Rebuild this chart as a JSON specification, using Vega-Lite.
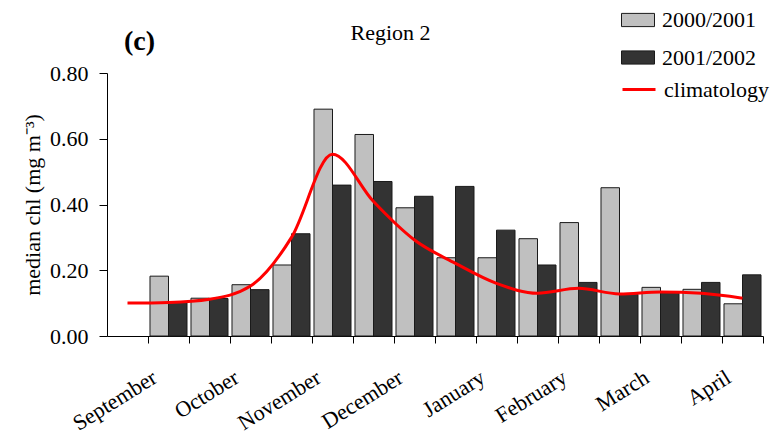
{
  "$schema": "https://vega.github.io/schema/vega-lite/v6.json",
  "width": 656,
  "height": 263,
  "autosize": {"type": "none"},
  "padding": {"left": 107, "top": 73, "right": 10, "bottom": 101},
  "background": "#ffffff",
  "config": {
    "font": "Liberation Serif",
    "view": {"stroke": null},
    "axis": {
      "grid": false,
      "domainColor": "#000000",
      "tickColor": "#000000",
      "labelColor": "#000000",
      "titleColor": "#000000",
      "labelFont": "Liberation Serif",
      "titleFont": "Liberation Serif"
    },
    "axisY": {
      "titleFont": "Liberation Serif",
      "titleFontSize": 22,
      "titleFontWeight": "normal"
    },
    "legend": {
      "labelFont": "Liberation Serif",
      "labelFontSize": 22,
      "labelColor": "#000000",
      "labelLimit": 300
    },
    "text": {"font": "Liberation Serif"}
  },
  "datasets": {
    "bars": [
      {"period": "September 2", "season": "2000/2001", "chl": 0.182},
      {"period": "September 2", "season": "2001/2002", "chl": 0.102},
      {"period": "October 1", "season": "2000/2001", "chl": 0.115},
      {"period": "October 1", "season": "2001/2002", "chl": 0.114},
      {"period": "October 2", "season": "2000/2001", "chl": 0.156},
      {"period": "October 2", "season": "2001/2002", "chl": 0.141},
      {"period": "November 1", "season": "2000/2001", "chl": 0.216},
      {"period": "November 1", "season": "2001/2002", "chl": 0.311},
      {"period": "November 2", "season": "2000/2001", "chl": 0.690},
      {"period": "November 2", "season": "2001/2002", "chl": 0.459},
      {"period": "December 1", "season": "2000/2001", "chl": 0.613},
      {"period": "December 1", "season": "2001/2002", "chl": 0.470},
      {"period": "December 2", "season": "2000/2001", "chl": 0.390},
      {"period": "December 2", "season": "2001/2002", "chl": 0.425},
      {"period": "January 1", "season": "2000/2001", "chl": 0.238},
      {"period": "January 1", "season": "2001/2002", "chl": 0.455},
      {"period": "January 2", "season": "2000/2001", "chl": 0.238},
      {"period": "January 2", "season": "2001/2002", "chl": 0.322},
      {"period": "February 1", "season": "2000/2001", "chl": 0.296},
      {"period": "February 1", "season": "2001/2002", "chl": 0.216},
      {"period": "February 2", "season": "2000/2001", "chl": 0.345},
      {"period": "February 2", "season": "2001/2002", "chl": 0.163},
      {"period": "March 1", "season": "2000/2001", "chl": 0.451},
      {"period": "March 1", "season": "2001/2002", "chl": 0.127},
      {"period": "March 2", "season": "2000/2001", "chl": 0.148},
      {"period": "March 2", "season": "2001/2002", "chl": 0.132},
      {"period": "April 1", "season": "2000/2001", "chl": 0.142},
      {"period": "April 1", "season": "2001/2002", "chl": 0.163},
      {"period": "April 2", "season": "2000/2001", "chl": 0.098},
      {"period": "April 2", "season": "2001/2002", "chl": 0.186}
    ],
    "clim": [
      {"period": "September 1", "clim": 0.100, "series": "climatology"},
      {"period": "September 2", "clim": 0.102, "series": "climatology"},
      {"period": "October 1", "clim": 0.112, "series": "climatology"},
      {"period": "October 2", "clim": 0.152, "series": "climatology"},
      {"period": "November 1", "clim": 0.300, "series": "climatology"},
      {"period": "November 2", "clim": 0.553, "series": "climatology"},
      {"period": "December 1", "clim": 0.409, "series": "climatology"},
      {"period": "December 2", "clim": 0.292, "series": "climatology"},
      {"period": "January 1", "clim": 0.221, "series": "climatology"},
      {"period": "January 2", "clim": 0.160, "series": "climatology"},
      {"period": "February 1", "clim": 0.130, "series": "climatology"},
      {"period": "February 2", "clim": 0.145, "series": "climatology"},
      {"period": "March 1", "clim": 0.128, "series": "climatology"},
      {"period": "March 2", "clim": 0.134, "series": "climatology"},
      {"period": "April 1", "clim": 0.130, "series": "climatology"},
      {"period": "April 2", "clim": 0.115, "series": "climatology"}
    ],
    "panel": [
      {"text": "(c)", "period": "September 1", "y": 0.87}
    ],
    "region": [
      {"text": "Region 2", "period": "December 1", "y": 0.9}
    ]
  },
  "layer": [
    {
      "data": {"name": "bars"},
      "mark": {"type": "bar", "stroke": "#1a1a1a", "strokeWidth": 1},
      "encoding": {
        "x": {
          "field": "period",
          "type": "nominal",
          "scale": {
            "domain": ["September 1", "September 2", "October 1", "October 2", "November 1", "November 2", "December 1", "December 2", "January 1", "January 2", "February 1", "February 2", "March 1", "March 2", "April 1", "April 2"],
            "paddingInner": 0,
            "paddingOuter": 0
          },
          "axis": {
            "title": null,
            "bandPosition": 1,
            "tickSize": 7,
            "labelAngle": -32,
            "labelAlign": "right",
            "labelBaseline": "alphabetic",
            "labelFont": "Liberation Serif",
            "labelFontSize": 22,
            "labelPadding": 38,
            "labelOffset": 31,
            "labelOverlap": false,
            "labelBound": false,
            "labelExpr": "slice(datum.value, -1) == '1' ? slice(datum.value, 0, -2) : ''"
          }
        },
        "xOffset": {
          "field": "season",
          "type": "nominal",
          "scale": {"paddingOuter": 0.108, "paddingInner": 0}
        },
        "y": {
          "field": "chl",
          "type": "quantitative",
          "scale": {"domain": [0, 0.8], "nice": false},
          "axis": {
            "values": [0, 0.2, 0.4, 0.6, 0.8],
            "format": ".2f",
            "tickSize": 8,
            "labelPadding": 11,
            "labelFont": "Liberation Serif",
            "labelFontSize": 22,
            "title": "median chl (mg m⁻³)",
            "titleFont": "Liberation Serif",
            "titleFontSize": 22,
            "titleFontWeight": "normal",
            "titlePadding": 5
          }
        },
        "fill": {
          "field": "season",
          "type": "nominal",
          "scale": {
            "domain": ["2000/2001", "2001/2002"],
            "range": ["#c0c0c0", "#333333"]
          },
          "legend": {
            "title": null,
            "orient": "none",
            "legendX": 514,
            "legendY": -70,
            "symbolType": "M-1,-0.4H1V0.4H-1Z",
            "symbolSize": 1089,
            "symbolStrokeColor": "#1a1a1a",
            "symbolStrokeWidth": 1,
            "rowPadding": 9.5,
            "labelOffset": 7,
            "labelFont": "Liberation Serif",
            "labelFontSize": 22
          }
        }
      }
    },
    {
      "data": {"name": "clim"},
      "mark": {"type": "line", "strokeWidth": 3, "interpolate": "monotone"},
      "encoding": {
        "x": {"field": "period", "type": "nominal"},
        "y": {"field": "clim", "type": "quantitative"},
        "stroke": {
          "field": "series",
          "type": "nominal",
          "scale": {"domain": ["climatology"], "range": ["#ff0000"]},
          "legend": {
            "title": null,
            "orient": "none",
            "legendX": 514,
            "legendY": -1.5,
            "symbolType": "stroke",
            "symbolSize": 1089,
            "symbolStrokeWidth": 3,
            "labelOffset": 7,
            "labelFont": "Liberation Serif",
            "labelFontSize": 22
          }
        }
      }
    },
    {
      "data": {"name": "panel"},
      "mark": {"type": "text", "font": "Liberation Serif", "fontSize": 28, "fontWeight": "bold", "baseline": "alphabetic", "align": "center", "dx": 12, "color": "#000000"},
      "encoding": {
        "x": {"field": "period", "type": "nominal"},
        "y": {"field": "y", "type": "quantitative"},
        "text": {"field": "text"}
      }
    },
    {
      "data": {"name": "region"},
      "mark": {"type": "text", "font": "Liberation Serif", "fontSize": 22, "baseline": "alphabetic", "align": "center", "dx": 17, "color": "#000000"},
      "encoding": {
        "x": {"field": "period", "type": "nominal"},
        "y": {"field": "y", "type": "quantitative"},
        "text": {"field": "text"}
      }
    }
  ]
}
